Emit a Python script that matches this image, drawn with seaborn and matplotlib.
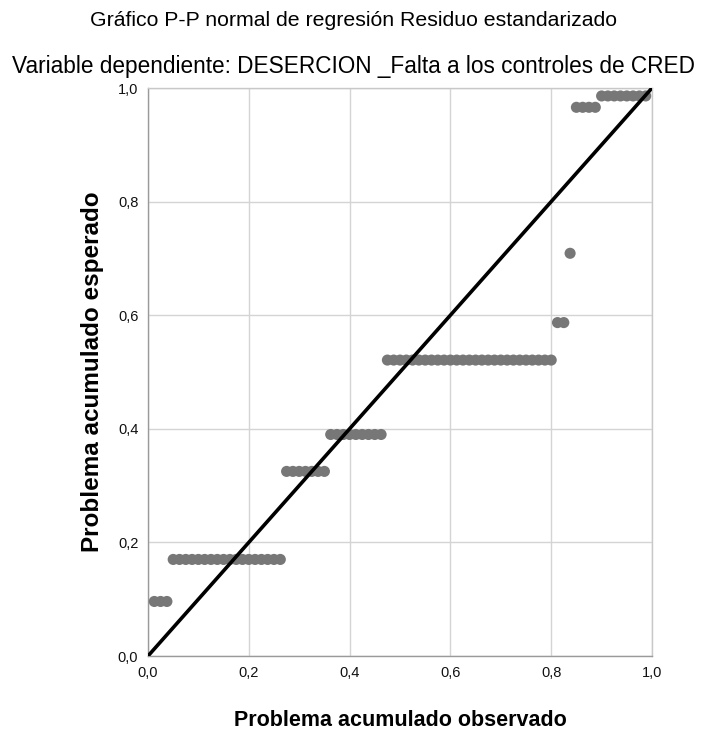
import numpy as np
import pandas as pd
from matplotlib import pyplot as plt
from matplotlib.ticker import FuncFormatter
import seaborn as sns

# expected cumulative probability of each tied residual group, and how many cases share it
expected_levels = [0.096, 0.170, 0.325, 0.390, 0.521, 0.587, 0.709, 0.966, 0.986]
group_counts = [3, 18, 7, 9, 27, 2, 1, 4, 8]
ticks = [0.0, 0.2, 0.4, 0.6, 0.8, 1.0]
diagonal = [0.0, 1.0]

# observed cumulative probability = rank / (n + 1), one point per case
n_cases = sum(group_counts)
expected = np.repeat(expected_levels, group_counts)
observed = np.arange(1, n_cases + 1) / (n_cases + 1)
df = pd.DataFrame({"observado": observed, "esperado": expected})

sns.set_style("white")
plt.rcParams["font.family"] = ["Liberation Sans", "DejaVu Sans"]
plt.rcParams["text.color"] = "black"
plt.rcParams["axes.labelcolor"] = "black"

fig = plt.figure(figsize=(7.07, 7.33), dpi=100)
ax = fig.add_axes([148 / 707, 77 / 733, 504 / 707, 568 / 733])

ax.grid(True, color="#d4d4d4", linewidth=1.0)
ax.set_axisbelow(True)

sns.scatterplot(data=df, x="observado", y="esperado", ax=ax, color="#777777",
                s=64, edgecolor="none", zorder=3, clip_on=False)
sns.lineplot(x=diagonal, y=diagonal, ax=ax, color="black", linewidth=2.6, zorder=4)

ax.set_xlim(0, 1)
ax.set_ylim(0, 1)
ax.set_xticks(ticks)
ax.set_yticks(ticks)
comma = FuncFormatter(lambda v, pos: f"{v:.1f}".replace(".", ","))
ax.xaxis.set_major_formatter(comma)
ax.yaxis.set_major_formatter(comma)
ax.tick_params(axis="both", length=0, labelsize=10.5, colors="#111111")
ax.tick_params(axis="x", pad=7)
ax.tick_params(axis="y", pad=7)

for name, spine in ax.spines.items():
    spine.set_color("#c8c8c8")
    spine.set_linewidth(1.0)
ax.spines["bottom"].set_color("#9a9a9a")
ax.spines["left"].set_color("#9a9a9a")

ax.set_xlabel("Problema acumulado observado", fontsize=15.5, fontweight="bold", labelpad=22)
ax.set_ylabel("Problema acumulado esperado", fontsize=17.5, fontweight="bold", labelpad=10)

fig.text(0.5, 1 - 20 / 733, "Gráfico P-P normal de regresión Residuo estandarizado",
         ha="center", va="center", fontsize=15.3)
fig.text(0.5, 1 - 66 / 733, "Variable dependiente: DESERCION _Falta a los controles de CRED",
         ha="center", va="center", fontsize=16.3)

fig.savefig("out.png", dpi=100)
